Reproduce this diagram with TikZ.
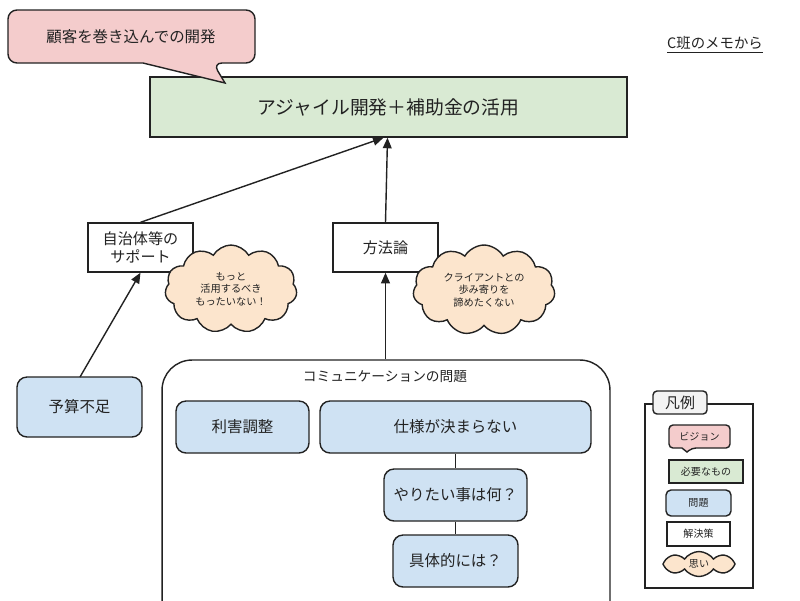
\documentclass[tikz,border=0pt]{standalone}
\usepackage{fontspec}
\setmainfont{Noto Sans CJK JP}
\usetikzlibrary{shapes.symbols,arrows.meta}
\definecolor{cpink}{HTML}{F4CCCC}
\definecolor{cgreen}{HTML}{D9EAD3}
\definecolor{cblue}{HTML}{CFE2F3}
\definecolor{cpeach}{HTML}{FCE5CD}
\definecolor{cgray}{HTML}{F3F3F3}
\definecolor{cline}{HTML}{222222}
\tikzset{
  base/.style={draw=cline, line width=0.8pt, inner sep=1pt, align=center, text=cline},
  need/.style={base, fill=cgreen},
  sol/.style={base, fill=white},
  prob/.style={base, fill=cblue, rounded corners=0.2cm},
  thought/.style={base, cloud, fill=cpeach, cloud puffs=11, cloud puff arc=120, cloud ignores aspect},
  conn/.style={draw=cline, line width=0.8pt},
  arr/.style={conn, -{Triangle[width=5pt,length=6pt]}},
  lbl/.style={inner sep=0pt, text=cline, align=center}
}
\begin{document}
\begin{tikzpicture}[x=0.02cm,y=-0.02cm]
\useasboundingbox (0,0) rectangle (800,600);
\clip (0,0) rectangle (800,600);
% need
\node[need, minimum width=9.54cm, minimum height=1.2cm, font=\fontsize{10.7}{12}\selectfont] (need) at (388.5,107) {アジャイル開発＋補助金の活用};
% vision bubble
\draw[fill=cpink, draw=cline, line width=0.8pt, rounded corners=0.18cm]
  (8,10) -- (255,10) -- (255,63) -- (213,63) [sharp corners] -- (225,83) -- (143,63) [rounded corners=0.18cm] -- (8,63) -- cycle;
\node[lbl, font=\fontsize{8.8}{10}\selectfont] (vision) at (131,37) {顧客を巻き込んでの開発};
% memo label
\node[lbl, font=\fontsize{8.2}{10}\selectfont] (memo) at (715,45) {\underline{C班のメモから}};
% solutions
\node[sol, minimum width=2.1cm, minimum height=0.98cm, font=\fontsize{8.6}{10.5}\selectfont] (jichi) at (140.5,247.5) {自治体等の\\サポート};
\node[sol, minimum width=2.1cm, minimum height=0.98cm, font=\fontsize{8.6}{10.5}\selectfont] (houhou) at (385.5,247.5) {方法論};
% thoughts
\node[thought, minimum width=2.64cm, minimum height=1.76cm, font=\fontsize{5.8}{7}\selectfont] (omoi1) at (231,289) {もっと\\活用するべき\\もったいない！};
\node[thought, minimum width=2.84cm, minimum height=1.8cm, font=\fontsize{5.8}{7}\selectfont] (omoi2) at (484,290) {クライアントとの\\歩み寄りを\\諦めたくない};
% problems
\node[prob, minimum width=2.5cm, minimum height=1.2cm, font=\fontsize{8.8}{10}\selectfont] (yosan) at (79.5,407) {予算不足};
\node[base, rounded corners=0.6cm, minimum width=8.96cm, minimum height=5.6cm] (comm) at (386,500) {};
\node[lbl, font=\fontsize{7.8}{9}\selectfont] (commtitle) at (385,377) {コミュニケーションの問題};
\node[prob, minimum width=2.66cm, minimum height=1.04cm, font=\fontsize{8.8}{10}\selectfont] (rigai) at (242.5,427) {利害調整};
\node[prob, minimum width=5.42cm, minimum height=1.04cm, font=\fontsize{8.8}{10}\selectfont] (shiyou) at (455.5,427) {仕様が決まらない};
\node[prob, minimum width=2.86cm, minimum height=1.04cm, font=\fontsize{8.8}{10}\selectfont] (yaritai) at (455.5,495) {やりたい事は何？};
\node[prob, minimum width=2.5cm, minimum height=1.04cm, font=\fontsize{8.8}{10}\selectfont] (gutai) at (455.5,561) {具体的には？};
% connectors
\draw[conn] (shiyou) -- (yaritai);
\draw[conn] (yaritai) -- (gutai);
\draw[arr] (80,377) -- (jichi.south);
\draw[arr] (jichi.north) -- ([xshift=-0.1cm]need.south);
\draw[arr] (houhou.north) -- ([xshift=-0.02cm]need.south);
\draw[arr] (houhou.south |- comm.north) -- (houhou.south);
% legend
\node[sol, minimum width=2.16cm, minimum height=3.68cm] (legend) at (699,496) {};
\node[base, fill=cgray, rounded corners=0.08cm, minimum width=1.08cm, minimum height=0.46cm, font=\fontsize{8.5}{10}\selectfont] (legtitle) at (680,402.5) {凡例};
\draw[fill=cpink, draw=cline, line width=0.8pt, rounded corners=0.08cm]
  (669,425) -- (730,425) -- (730,448) -- (692,448) [sharp corners] -- (687,452) -- (682,448) [rounded corners=0.08cm] -- (669,448) -- cycle;
\node[lbl, font=\fontsize{5.7}{7}\selectfont] (legvision) at (699.5,436.5) {ビジョン};
\node[need, minimum width=1.48cm, minimum height=0.46cm, font=\fontsize{5.7}{7}\selectfont] (legneed) at (706,471.5) {必要なもの};
\node[prob, rounded corners=0.1cm, minimum width=1.3cm, minimum height=0.52cm, font=\fontsize{5.7}{7}\selectfont] (legprob) at (698.5,503) {問題};
\node[sol, minimum width=1.26cm, minimum height=0.48cm, font=\fontsize{5.7}{7}\selectfont] (legsol) at (698.5,534) {解決策};
\node[thought, cloud puffs=8, cloud puff arc=110, minimum width=1.44cm, minimum height=0.5cm, inner sep=0pt, font=\fontsize{5.7}{7}\selectfont] (legomoi) at (699,564) {思い};
\end{tikzpicture}
\end{document}
